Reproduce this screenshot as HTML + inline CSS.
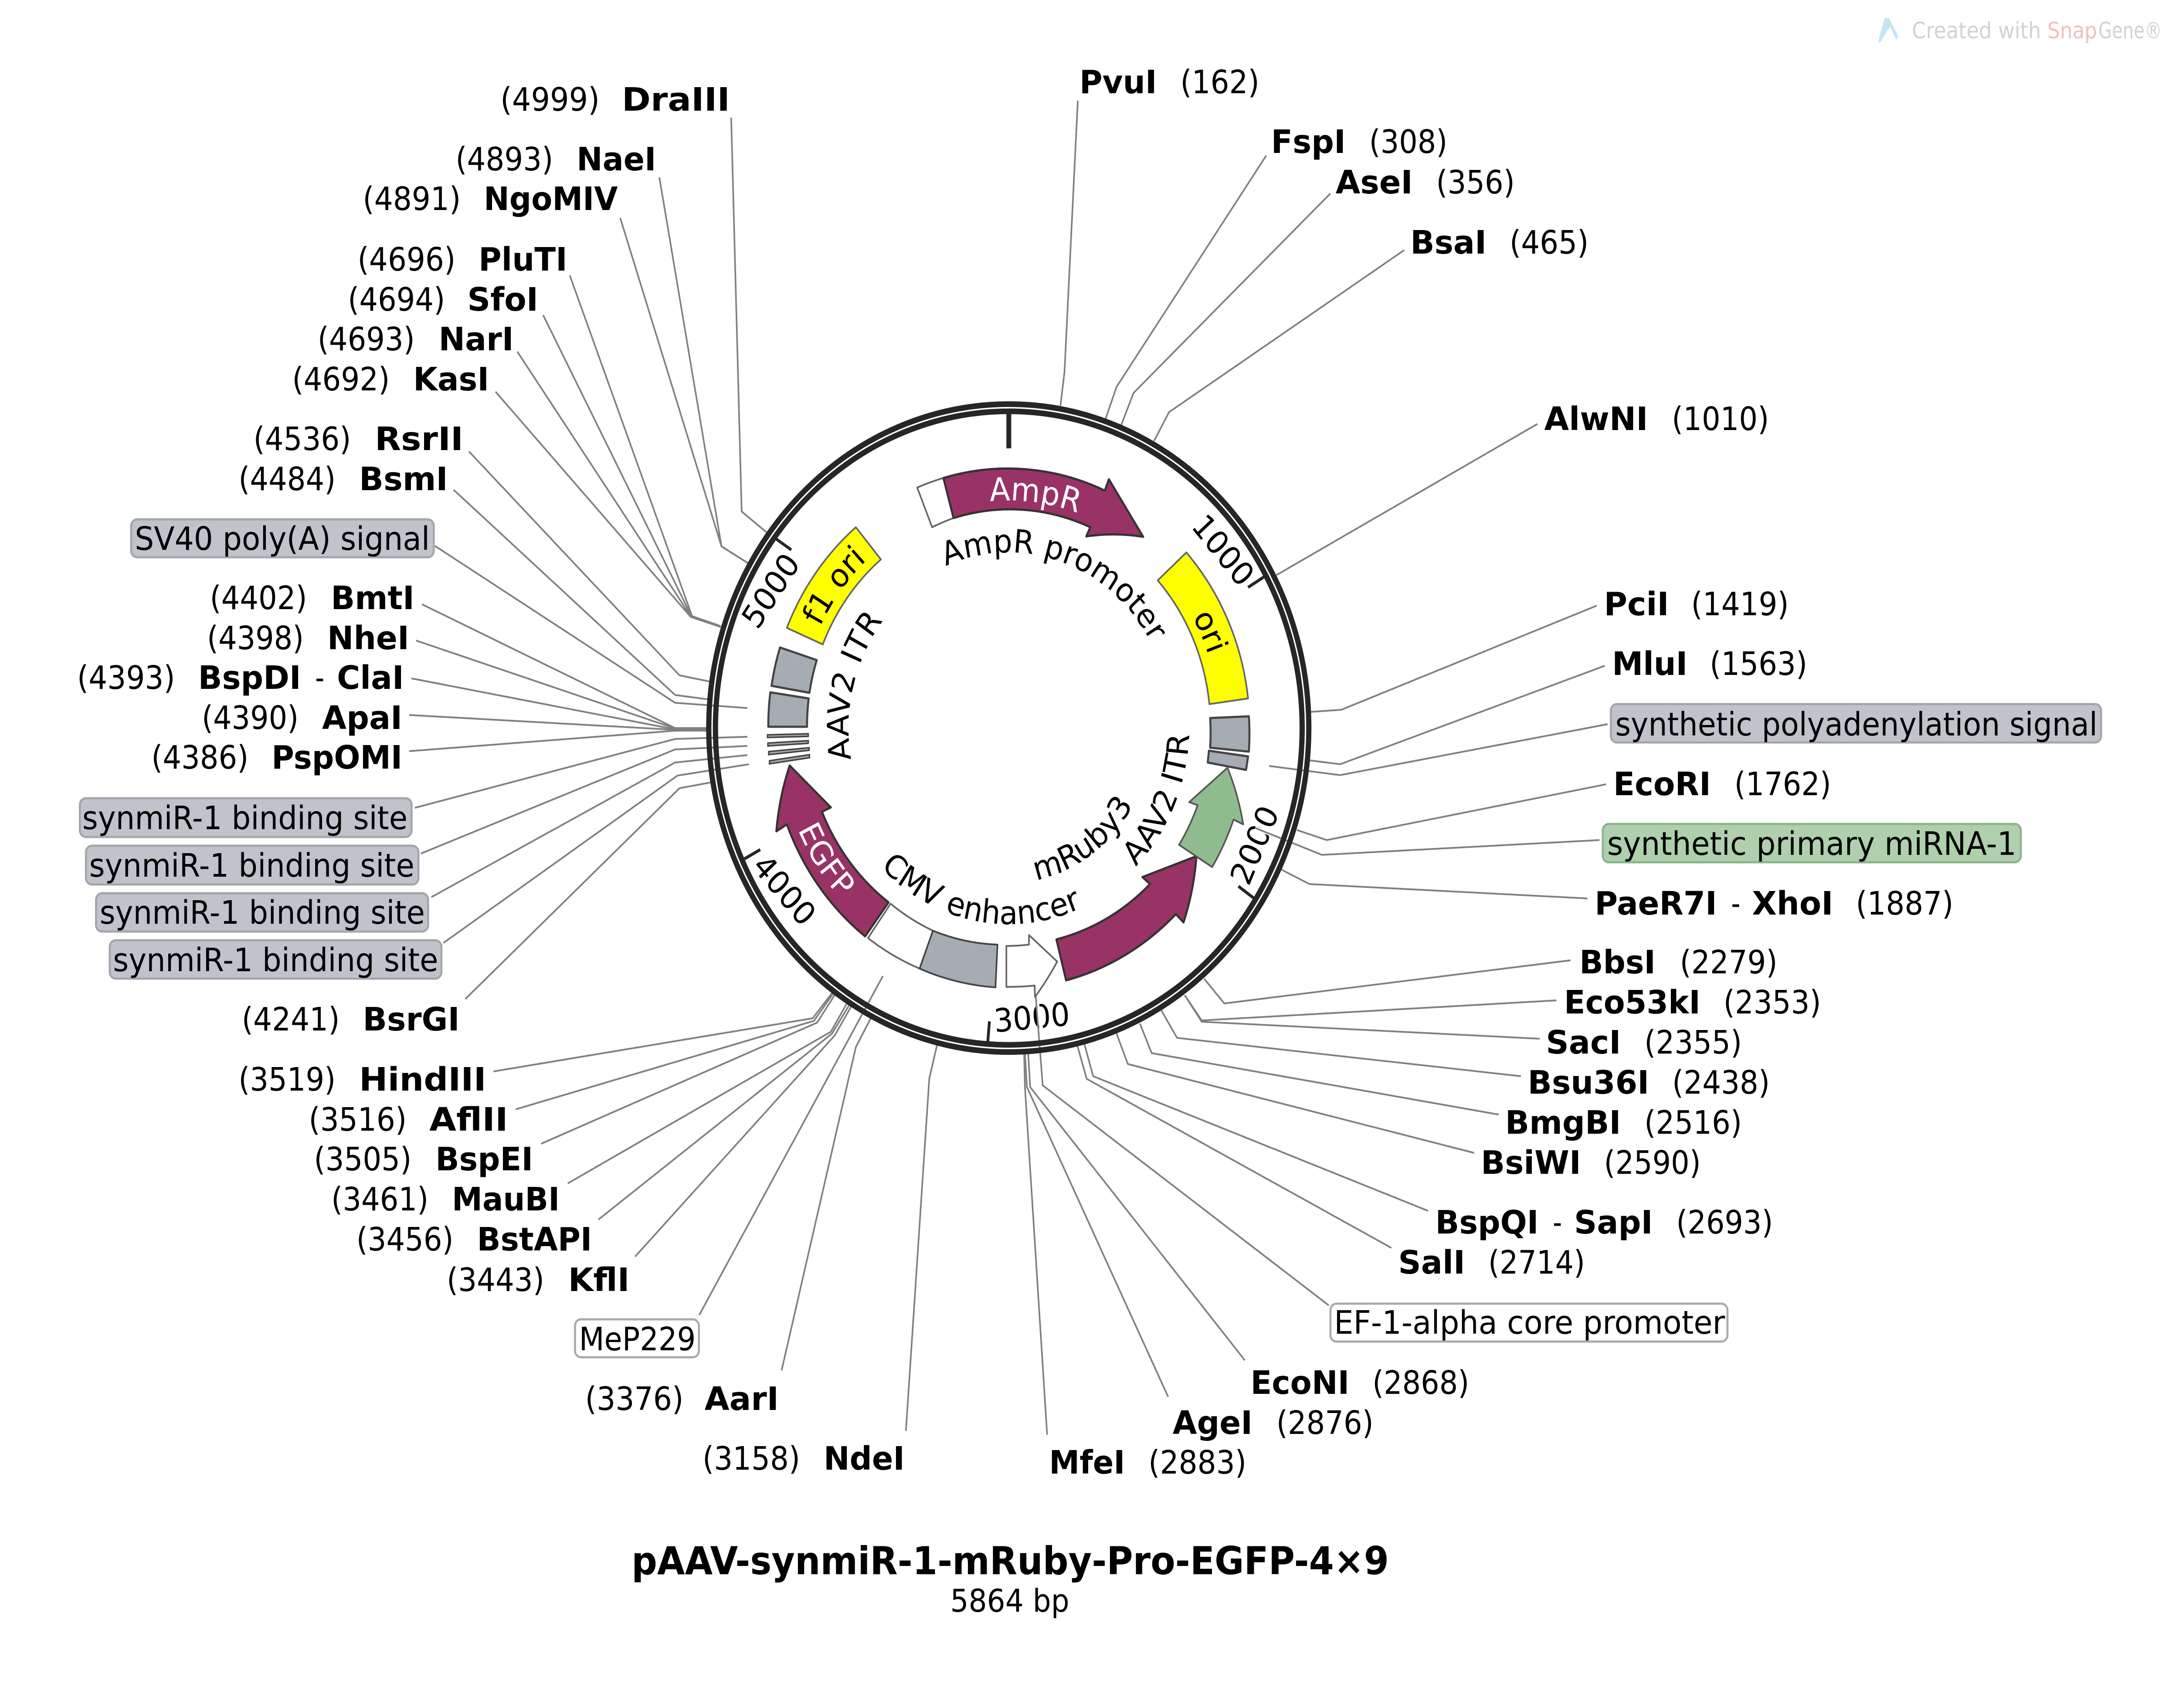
<!DOCTYPE html>
<html><head><meta charset="utf-8"><title>pAAV-synmiR-1-mRuby-Pro-EGFP-4×9</title>
<style>
html,body{margin:0;padding:0;background:#fff}
svg{display:block;width:5400px;height:3920px}
@media (min-width:3000px){svg{width:100vw}}
text{font-family:"DejaVu Sans","Liberation Sans",sans-serif;font-size:74px;fill:#000}
.b{font-weight:bold}
.w{fill:#fff}
.l{fill:none;stroke:#808080;stroke-width:4;stroke-linejoin:round}
.h{fill:none;stroke:#fff;stroke-width:9}
.box{stroke-width:5}
.g{fill:#c0c3c9;stroke:#a3a6ae}
.v{fill:#afcfad;stroke:#8db48b}
.e{fill:#fff;stroke:#aaa}
.ar{stroke:#333;stroke-width:5;stroke-linejoin:round}
.m{fill:#993265}
.y{fill:#ff0;stroke:#666;stroke-width:4;stroke-linejoin:round}
.wt{fill:#fff;stroke:#666;stroke-width:4;stroke-linejoin:round}
.gr{fill:#a6acb4;stroke:#444;stroke-width:5;stroke-linejoin:round}
.st{fill:#a6acb4;stroke:#444;stroke-width:3.5}
.t{stroke:#262626;stroke-width:7;fill:none}
</style></head><body>
<svg xmlns="http://www.w3.org/2000/svg" viewBox="0 0 5400 3920" preserveAspectRatio="none">
<defs>
<path id="p1" d="M2292.4 1325.6A403 403 0 0 1 2876.4 1526.6"/>
<path id="p2" d="M2215.5 1233.2A522 522 0 0 1 2881.8 1315"/>
<path id="p3" d="M2806.9 1248.7A522 522 0 0 1 3019.1 1725.6"/>
<path id="p4" d="M1981.9 1607.4A522 522 0 0 1 2296 1190.5"/>
<path id="p5" d="M2143.2 1845A397 397 0 0 1 2266.6 1349.8"/>
<path id="p6" d="M2698.7 2071.4A447 447 0 0 0 2928.8 1544.8"/>
<path id="p7" d="M2472.8 2025A355 355 0 0 0 2843.9 1759.3"/>
<path id="p8" d="M2108 1892A450 450 0 0 0 2785.6 2018.7"/>
<path id="p9" d="M1934.4 1756.5A572 572 0 0 0 2202 2159.3"/>
</defs>

<!-- watermark -->
<path d="M4670 42L4682 42L4692 62L4702 78L4704 86L4698 90L4692 76L4684 62L4676 72L4660 97L4654 97Z" fill="#c4e6f4"/>
<text x="4738" y="88" style="font-size:52px;fill:#d2d2d2" textLength="320" lengthAdjust="spacingAndGlyphs">Created with</text>
<text x="5074" y="88" style="font-size:52px;fill:#ecc2c2" textLength="123" lengthAdjust="spacingAndGlyphs">Snap</text>
<text x="5200" y="88" style="font-size:52px;fill:#d2d2d2" textLength="158" lengthAdjust="spacingAndGlyphs">Gene®</text>

<!-- tick labels -->
<text text-anchor="middle" transform="translate(3032 1262) rotate(49) translate(0 27)">1000</text>
<text text-anchor="middle" transform="translate(3108 1939) rotate(-66) translate(0 27)">2000</text>
<text text-anchor="middle" transform="translate(2557 2334) rotate(-5) translate(0 27)">3000</text>
<text text-anchor="middle" transform="translate(1945 2042) rotate(48) translate(0 27)">4000</text>
<text text-anchor="middle" transform="translate(1909 1355) rotate(-55) translate(0 27)">5000</text>

<!-- connectors -->
<path class="h" d="M3276 1962L3110 1900"/>
<path class="h" d="M2584 2380L2566 2277"/>
<g class="l">
<polyline points="1812,270 1838,1174 1900,1222"/>
<polyline points="1634,407 1788,1254 1853,1292"/>
<polyline points="1537,500 1788,1254 1853,1292"/>
<polyline points="1412,632 1715,1414 1786,1437"/>
<polyline points="1346,723 1714,1415 1786,1437"/>
<polyline points="1282,807 1713,1416 1786,1438"/>
<polyline points="1228,899 1712,1416 1786,1439"/>
<polyline points="1162,1036 1684,1550 1758,1564"/>
<polyline points="1124,1124 1673,1595 1754,1605"/>
<polyline points="1078,1253 1673,1613 1852,1625"/>
<polyline points="1046,1387 1673,1671 1754,1671"/>
<polyline points="1031,1470 1673,1672 1754,1672"/>
<polyline points="1020,1557 1673,1674 1754,1674"/>
<polyline points="1014,1641 1673,1675 1754,1675"/>
<polyline points="1014,1724 1673,1677 1754,1677"/>
<polyline points="1028,1854 1673,1696 1852,1691"/>
<polyline points="1043,1959 1673,1720 1852,1712"/>
<polyline points="1069,2059 1673,1750 1852,1733"/>
<polyline points="1099,2164 1679,1780 1856,1754"/>
<polyline points="1153,2293 1684,1809 1760,1796"/>
<polyline points="1223,2459 2014,2337 2062,2279"/>
<polyline points="1278,2546 2017,2343 2065,2280"/>
<polyline points="1341,2625 2025,2347 2069,2283"/>
<polyline points="1407,2716 2059,2368 2098,2304"/>
<polyline points="1483,2799 2062,2372 2105,2306"/>
<polyline points="1574,2884 2069,2376 2110,2309"/>
<polyline points="1733,3018 2188,2240"/>
<polyline points="1937,3145 2121,2403 2158,2337"/>
<polyline points="2245,3284 2303,2475 2322,2399"/>
<polyline points="3892,2204 3034,2303 2984,2246"/>
<polyline points="3857,2296 2978,2342 2936,2284"/>
<polyline points="3816,2384 2978,2345 2936,2284"/>
<polyline points="3769,2470 2917,2382 2878,2319"/>
<polyline points="3714,2558 2854,2417 2825,2349"/>
<polyline points="3653,2646 2795,2442 2767,2372"/>
<polyline points="3539,2779 2709,2470 2687,2395"/>
<polyline points="3448,2864 2693,2476 2670,2400"/>
<polyline points="3293,2996 2584,2491 2566,2277"/>
<polyline points="3085,3122 2553,2495 2548,2418"/>
<polyline points="2895,3206 2545,2495 2540,2418"/>
<polyline points="2595,3293 2540,2495 2538,2418"/>
<polyline points="3957,1390 3324,1629 3245,1634"/>
<polyline points="3977,1528 3321,1754 3245,1745"/>
<polyline points="3984,1662 3321,1779 3145,1758"/>
<polyline points="3980,1800 3288,1928 3214,1905"/>
<polyline points="3964,1928 3276,1962 3110,1900"/>
<polyline points="3934,2062 3245,2029 3176,1996"/>
<polyline points="2671,231 2638,854 2628,931"/>
<polyline points="3138,357 2767,888 2740,961"/>
<polyline points="3297,444 2809,902 2778,977"/>
<polyline points="3480,574 2897,946 2860,1012"/>
<polyline points="3810,973 3163,1320"/>
</g>

<!-- ring -->
<circle cx="2500" cy="1671" r="743.5" fill="none" stroke="#262626" stroke-width="13"/>
<circle cx="2500" cy="1671" r="727" fill="none" stroke="#262626" stroke-width="13"/>

<!-- ticks -->
<line x1="2500" y1="950" x2="2500" y2="1029" stroke="#262626" stroke-width="12"/>
<line class="t" x1="3134" y1="1323" x2="3093" y2="1348"/>
<line class="t" x1="3108" y1="2062" x2="3069" y2="2034"/>
<line class="t" x1="2448" y1="2390" x2="2452" y2="2344"/>
<line class="t" x1="1845" y1="1971" x2="1884" y2="1950"/>
<line class="t" x1="1922" y1="1236" x2="1961" y2="1262"/>

<!-- features -->
<path class="wt" d="M2273 1119A596 596 0 0 1 2338 1097L2363 1189A501 501 0 0 0 2310 1210Z"/>
<path class="m ar" d="M2338 1097A596 596 0 0 1 2738 1126L2748 1100L2833 1232A501 501 0 0 0 2692 1231L2702 1210A501 501 0 0 0 2363 1189Z"/>
<path class="y" d="M2940 1268A597 597 0 0 1 3093 1603L2997 1616A500 500 0 0 0 2869 1332Z"/>
<path class="y" d="M2121 1210L2183 1284A500 500 0 0 0 2039 1479L1950 1441A597 597 0 0 1 2121 1210Z"/>
<path class="gr" d="M2999 1648L3095 1644A596 596 0 0 1 3095 1725L2999 1716A500 500 0 0 0 2999 1648Z"/>
<path class="gr" d="M2996 1723L3093 1736L3088 1767L2993 1750Z"/>
<path class="gr" d="M1933 1486L2024 1515A500 500 0 0 0 2006 1590L1912 1574A596 596 0 0 1 1933 1486Z"/>
<path class="gr" d="M1909 1589L2004 1603A500 500 0 0 0 2000 1668L1904 1668A596 596 0 0 1 1909 1589Z"/>
<polygon class="st" points="1902,1686.5 2003,1684 2003,1690 1902,1692.6"/>
<polygon class="st" points="1903,1705.4 2003,1699.8 2003,1706 1903,1712"/>
<polygon class="st" points="1905,1725 2005,1716 2005,1722 1905,1732"/>
<polygon class="st" points="1907,1746 2006,1732 2006,1739 1907,1753"/>
<path class="m ar" d="M1957 1757L2059 1853L2037 1863A501 501 0 0 0 2202 2071L2144 2149A596 596 0 0 1 1950 1892L1924 1908A596 596 0 0 1 1957 1757Z"/>
<path class="wt" d="M2207 2074A500 500 0 0 0 2312 2136L2279 2223A596 596 0 0 1 2151 2153Z"/>
<path class="gr" style="stroke-width:4" d="M2312 2136A500 500 0 0 0 2472 2168L2467 2266A596 596 0 0 1 2279 2223Z"/>
<path class="wt" d="M2494 2171Q2522 2171 2550 2168L2550 2146L2620 2207Q2595 2250 2565 2288L2564 2262Q2530 2265 2494 2265Z"/>
<path class="m ar" d="M2618 2156A500 500 0 0 0 2850 2029L2831 2013L2965 1965A596 596 0 0 1 2933 2117L2914 2098A596 596 0 0 1 2642 2250Z"/>
<path class="ar" fill="#8fbc8f" style="stroke:#555;stroke-width:4" d="M3042 1762A596 596 0 0 1 3081 1892L3057 1881A596 596 0 0 1 3004 1990L2922 1939A500 500 0 0 0 2968 1848L2947 1841Z"/>

<!-- curved labels -->
<text text-anchor="middle"><textPath href="#p1" startOffset="50%">AmpR promoter</textPath></text>
<text text-anchor="middle" class="w"><textPath href="#p2" startOffset="50%">AmpR</textPath></text>
<text text-anchor="middle"><textPath href="#p3" startOffset="50%">ori</textPath></text>
<text text-anchor="middle"><textPath href="#p4" startOffset="50%">f1 ori</textPath></text>
<text text-anchor="middle"><textPath href="#p5" startOffset="50%">AAV2 ITR</textPath></text>
<text text-anchor="middle"><textPath href="#p6" startOffset="50%">AAV2 ITR</textPath></text>
<text text-anchor="middle"><textPath href="#p7" startOffset="50%">mRuby3</textPath></text>
<text text-anchor="middle"><textPath href="#p8" startOffset="50%">CMV enhancer</textPath></text>
<text text-anchor="middle" class="w"><textPath href="#p9" startOffset="50%">EGFP</textPath></text>

<!-- feature label boxes -->
<rect class="box g" x="325" y="1192" width="750" height="87" rx="15"/>
<text x="334" y="1262" textLength="731" lengthAdjust="spacingAndGlyphs">SV40 poly(A) signal</text>
<rect class="box g" x="198" y="1832" width="822" height="89" rx="15"/>
<text x="204" y="1903" textLength="806" lengthAdjust="spacingAndGlyphs">synmiR-1 binding site</text>
<rect class="box g" x="213" y="1941" width="824" height="89" rx="15"/>
<text x="221" y="2012" textLength="806" lengthAdjust="spacingAndGlyphs">synmiR-1 binding site</text>
<rect class="box g" x="238" y="2050" width="823" height="88" rx="15"/>
<text x="247" y="2120" textLength="806" lengthAdjust="spacingAndGlyphs">synmiR-1 binding site</text>
<rect class="box g" x="272" y="2158" width="822" height="88" rx="15"/>
<text x="280" y="2229" textLength="806" lengthAdjust="spacingAndGlyphs">synmiR-1 binding site</text>
<rect class="box e" x="1425" y="3028" width="307" height="87" rx="15"/>
<text x="1435" y="3099" textLength="289" lengthAdjust="spacingAndGlyphs">MeP229</text>
<rect class="box e" x="3297" y="2992" width="984" height="87" rx="15"/>
<text x="3306" y="3061" textLength="969" lengthAdjust="spacingAndGlyphs">EF-1-alpha core promoter</text>
<rect class="box g" x="3992" y="1616" width="1215" height="88" rx="15"/>
<text x="4003" y="1688" textLength="1195" lengthAdjust="spacingAndGlyphs">synthetic polyadenylation signal</text>
<rect class="box v" x="3972" y="1891" width="1036" height="88" rx="15"/>
<text x="3983" y="1962" textLength="1014" lengthAdjust="spacingAndGlyphs">synthetic primary miRNA-1</text>

<!-- enzyme labels -->
<g>
<text x="1240" y="254" textLength="246" lengthAdjust="spacingAndGlyphs">(4999)</text><text class="b" x="1541" y="254" textLength="268" lengthAdjust="spacingAndGlyphs">DraIII</text>
<text x="1129" y="391" textLength="242" lengthAdjust="spacingAndGlyphs">(4893)</text><text class="b" x="1429" y="391" textLength="197" lengthAdjust="spacingAndGlyphs">NaeI</text>
<text x="899" y="482" textLength="243" lengthAdjust="spacingAndGlyphs">(4891)</text><text class="b" x="1199" y="482" textLength="332" lengthAdjust="spacingAndGlyphs">NgoMIV</text>
<text x="886" y="621" textLength="243" lengthAdjust="spacingAndGlyphs">(4696)</text><text class="b" x="1186" y="621" textLength="220" lengthAdjust="spacingAndGlyphs">PluTI</text>
<text x="862" y="713" textLength="241" lengthAdjust="spacingAndGlyphs">(4694)</text><text class="b" x="1158" y="713" textLength="176" lengthAdjust="spacingAndGlyphs">SfoI</text>
<text x="787" y="804" textLength="241" lengthAdjust="spacingAndGlyphs">(4693)</text><text class="b" x="1087" y="804" textLength="186" lengthAdjust="spacingAndGlyphs">NarI</text>
<text x="724" y="896" textLength="242" lengthAdjust="spacingAndGlyphs">(4692)</text><text class="b" x="1024" y="896" textLength="188" lengthAdjust="spacingAndGlyphs">KasI</text>
<text x="628" y="1033" textLength="242" lengthAdjust="spacingAndGlyphs">(4536)</text><text class="b" x="929" y="1033" textLength="219" lengthAdjust="spacingAndGlyphs">RsrII</text>
<text x="591" y="1125" textLength="241" lengthAdjust="spacingAndGlyphs">(4484)</text><text class="b" x="890" y="1125" textLength="220" lengthAdjust="spacingAndGlyphs">BsmI</text>
<text x="520" y="1398" textLength="241" lengthAdjust="spacingAndGlyphs">(4402)</text><text class="b" x="820" y="1398" textLength="207" lengthAdjust="spacingAndGlyphs">BmtI</text>
<text x="513" y="1490" textLength="240" lengthAdjust="spacingAndGlyphs">(4398)</text><text class="b" x="811" y="1490" textLength="203" lengthAdjust="spacingAndGlyphs">NheI</text>
<text x="191" y="1581" textLength="243" lengthAdjust="spacingAndGlyphs">(4393)</text><text class="b" x="491" y="1581" textLength="255" lengthAdjust="spacingAndGlyphs">BspDI</text><text x="781" y="1581" textLength="23" lengthAdjust="spacingAndGlyphs">-</text><text class="b" x="835" y="1581" textLength="166" lengthAdjust="spacingAndGlyphs">ClaI</text>
<text x="500" y="1673" textLength="240" lengthAdjust="spacingAndGlyphs">(4390)</text><text class="b" x="798" y="1673" textLength="199" lengthAdjust="spacingAndGlyphs">ApaI</text>
<text x="375" y="1764" textLength="241" lengthAdjust="spacingAndGlyphs">(4386)</text><text class="b" x="673" y="1764" textLength="324" lengthAdjust="spacingAndGlyphs">PspOMI</text>
<text x="599" y="2365" textLength="243" lengthAdjust="spacingAndGlyphs">(4241)</text><text class="b" x="899" y="2365" textLength="240" lengthAdjust="spacingAndGlyphs">BsrGI</text>
<text x="591" y="2503" textLength="241" lengthAdjust="spacingAndGlyphs">(3519)</text><text class="b" x="890" y="2503" textLength="315" lengthAdjust="spacingAndGlyphs">HindIII</text>
<text x="765" y="2595" textLength="243" lengthAdjust="spacingAndGlyphs">(3516)</text><text class="b" x="1064" y="2595" textLength="195" lengthAdjust="spacingAndGlyphs">AflII</text>
<text x="778" y="2686" textLength="242" lengthAdjust="spacingAndGlyphs">(3505)</text><text class="b" x="1079" y="2686" textLength="242" lengthAdjust="spacingAndGlyphs">BspEI</text>
<text x="821" y="2778" textLength="241" lengthAdjust="spacingAndGlyphs">(3461)</text><text class="b" x="1120" y="2778" textLength="267" lengthAdjust="spacingAndGlyphs">MauBI</text>
<text x="883" y="2870" textLength="241" lengthAdjust="spacingAndGlyphs">(3456)</text><text class="b" x="1182" y="2870" textLength="285" lengthAdjust="spacingAndGlyphs">BstAPI</text>
<text x="1107" y="2963" textLength="242" lengthAdjust="spacingAndGlyphs">(3443)</text><text class="b" x="1408" y="2963" textLength="152" lengthAdjust="spacingAndGlyphs">KflI</text>
<text x="1450" y="3236" textLength="244" lengthAdjust="spacingAndGlyphs">(3376)</text><text class="b" x="1746" y="3236" textLength="184" lengthAdjust="spacingAndGlyphs">AarI</text>
<text x="1741" y="3373" textLength="242" lengthAdjust="spacingAndGlyphs">(3158)</text><text class="b" x="2041" y="3373" textLength="201" lengthAdjust="spacingAndGlyphs">NdeI</text>
<text class="b" x="2600" y="3382" textLength="188" lengthAdjust="spacingAndGlyphs">MfeI</text><text x="2846" y="3382" textLength="243" lengthAdjust="spacingAndGlyphs">(2883)</text>
<text class="b" x="2906" y="3291" textLength="198" lengthAdjust="spacingAndGlyphs">AgeI</text><text x="3163" y="3291" textLength="241" lengthAdjust="spacingAndGlyphs">(2876)</text>
<text class="b" x="3099" y="3199" textLength="245" lengthAdjust="spacingAndGlyphs">EcoNI</text><text x="3401" y="3199" textLength="240" lengthAdjust="spacingAndGlyphs">(2868)</text>
<text class="b" x="3465" y="2923" textLength="166" lengthAdjust="spacingAndGlyphs">SalI</text><text x="3688" y="2923" textLength="240" lengthAdjust="spacingAndGlyphs">(2714)</text>
<text class="b" x="3557" y="2831" textLength="256" lengthAdjust="spacingAndGlyphs">BspQI</text><text x="3848" y="2831" textLength="23" lengthAdjust="spacingAndGlyphs">-</text><text class="b" x="3901" y="2831" textLength="195" lengthAdjust="spacingAndGlyphs">SapI</text><text x="4154" y="2831" textLength="240" lengthAdjust="spacingAndGlyphs">(2693)</text>
<text class="b" x="3670" y="2694" textLength="248" lengthAdjust="spacingAndGlyphs">BsiWI</text><text x="3975" y="2694" textLength="240" lengthAdjust="spacingAndGlyphs">(2590)</text>
<text class="b" x="3730" y="2602" textLength="287" lengthAdjust="spacingAndGlyphs">BmgBI</text><text x="4075" y="2602" textLength="242" lengthAdjust="spacingAndGlyphs">(2516)</text>
<text class="b" x="3786" y="2510" textLength="301" lengthAdjust="spacingAndGlyphs">Bsu36I</text><text x="4144" y="2510" textLength="242" lengthAdjust="spacingAndGlyphs">(2438)</text>
<text class="b" x="3831" y="2418" textLength="186" lengthAdjust="spacingAndGlyphs">SacI</text><text x="4075" y="2418" textLength="242" lengthAdjust="spacingAndGlyphs">(2355)</text>
<text class="b" x="3876" y="2326" textLength="338" lengthAdjust="spacingAndGlyphs">Eco53kI</text><text x="4271" y="2326" textLength="242" lengthAdjust="spacingAndGlyphs">(2353)</text>
<text class="b" x="3914" y="2234" textLength="189" lengthAdjust="spacingAndGlyphs">BbsI</text><text x="4163" y="2234" textLength="242" lengthAdjust="spacingAndGlyphs">(2279)</text>
<text class="b" x="3952" y="2099" textLength="303" lengthAdjust="spacingAndGlyphs">PaeR7I</text><text x="4290" y="2099" textLength="23" lengthAdjust="spacingAndGlyphs">-</text><text class="b" x="4342" y="2099" textLength="201" lengthAdjust="spacingAndGlyphs">XhoI</text><text x="4599" y="2099" textLength="242" lengthAdjust="spacingAndGlyphs">(1887)</text>
<text class="b" x="3998" y="1825" textLength="242" lengthAdjust="spacingAndGlyphs">EcoRI</text><text x="4298" y="1825" textLength="240" lengthAdjust="spacingAndGlyphs">(1762)</text>
<text class="b" x="3995" y="1549" textLength="187" lengthAdjust="spacingAndGlyphs">MluI</text><text x="4237" y="1549" textLength="242" lengthAdjust="spacingAndGlyphs">(1563)</text>
<text class="b" x="3975" y="1412" textLength="161" lengthAdjust="spacingAndGlyphs">PciI</text><text x="4191" y="1412" textLength="242" lengthAdjust="spacingAndGlyphs">(1419)</text>
<text class="b" x="3827" y="987" textLength="257" lengthAdjust="spacingAndGlyphs">AlwNI</text><text x="4143" y="987" textLength="241" lengthAdjust="spacingAndGlyphs">(1010)</text>
<text class="b" x="3495" y="582" textLength="189" lengthAdjust="spacingAndGlyphs">BsaI</text><text x="3741" y="582" textLength="196" lengthAdjust="spacingAndGlyphs">(465)</text>
<text class="b" x="3310" y="444" textLength="191" lengthAdjust="spacingAndGlyphs">AseI</text><text x="3559" y="444" textLength="195" lengthAdjust="spacingAndGlyphs">(356)</text>
<text class="b" x="3150" y="351" textLength="185" lengthAdjust="spacingAndGlyphs">FspI</text><text x="3393" y="351" textLength="194" lengthAdjust="spacingAndGlyphs">(308)</text>
<text class="b" x="2675" y="214" textLength="192" lengthAdjust="spacingAndGlyphs">PvuI</text><text x="2925" y="214" textLength="196" lengthAdjust="spacingAndGlyphs">(162)</text>
</g>

<!-- title -->
<text class="b" x="1565" y="3613" style="font-size:88px" textLength="1877" lengthAdjust="spacingAndGlyphs">pAAV-synmiR-1-mRuby-Pro-EGFP-4×9</text>
<text x="2355" y="3699" style="font-size:72px" textLength="295" lengthAdjust="spacingAndGlyphs">5864 bp</text>
</svg>
</body></html>
